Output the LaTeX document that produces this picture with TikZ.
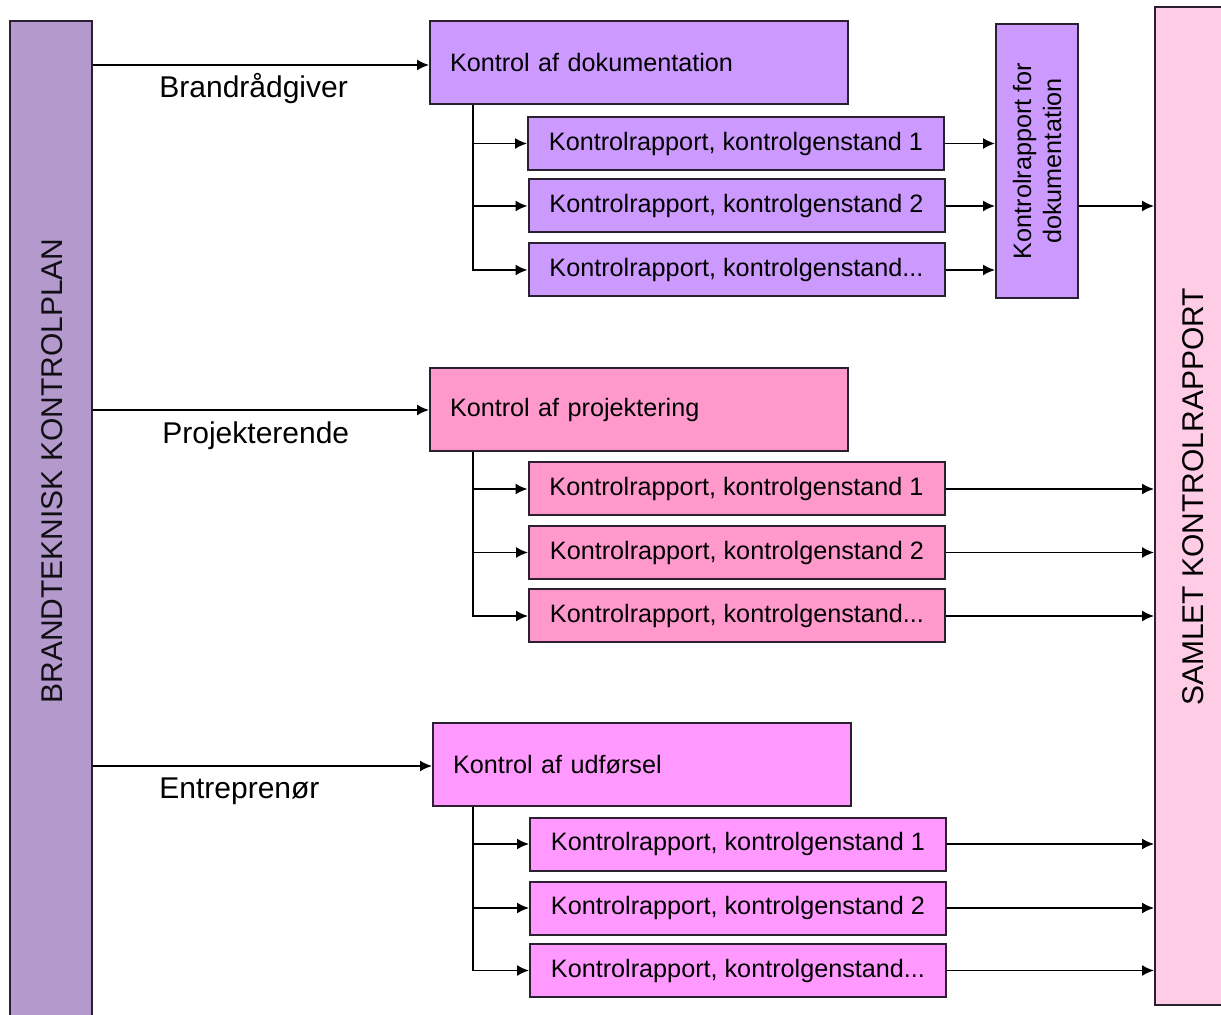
\documentclass[tikz,border=0pt]{standalone}
\usepackage{fontspec}
\setmainfont{Liberation Sans}
\usetikzlibrary{arrows.meta}
\definecolor{lbarc}{HTML}{B399CC}
\definecolor{rbarc}{HTML}{FFCCE6}
\definecolor{gonec}{HTML}{CC99FF}
\definecolor{gtwoc}{HTML}{FF99CC}
\definecolor{gthreec}{HTML}{FF99FF}
\definecolor{edgec}{HTML}{2A2030}
\tikzset{
  boxbase/.style={draw=edgec, line width=1pt, rectangle, inner sep=0pt, text=black},
  bigfont/.style={font=\fontsize{15}{18}\selectfont},
  smallfont/.style={font=\fontsize{12.6}{15}\selectfont},
  mainbox/.style={boxbase, smallfont, minimum height=41.5pt, text width=189pt, inner xsep=10pt, align=left},
  subbox/.style={boxbase, smallfont, minimum width=208pt, minimum height=26.5pt},
  arr/.style={draw=black, line width=0.8pt, -{Latex[length=6pt,width=5.5pt]}},
  lbl/.style={bigfont, anchor=west, text=black, inner sep=0pt}
}
\begin{document}
\begin{tikzpicture}[x=0.5pt,y=-0.5pt]
\useasboundingbox (0,0) rectangle (1221,1015);
\clip (0,0) rectangle (1221,1015);
\fill[white] (0,0) rectangle (1221,1015);

% side bars
\node[boxbase, fill=lbarc, minimum width=41pt, minimum height=502pt] (lbar) at (51,523) {};
\node[bigfont, rotate=90, text=black!90!lbarc] (lbtext) at (52,471) {BRANDTEKNISK KONTROLPLAN};
\node[boxbase, fill=rbarc, minimum width=41pt, minimum height=499pt] (rbar) at (1196,506) {};
\node[bigfont, rotate=90, text=black] (rbtext) at (1193,497) {SAMLET KONTROLRAPPORT};

% group 1
\node[mainbox, fill=gonec] (g1) at (639,62.5) {Kontrol af dokumentation};
\node[subbox, fill=gonec] (s11) at (736,143.5) {Kontrolrapport, kontrolgenstand 1};
\node[subbox, fill=gonec] (s12) at (736.5,206) {Kontrolrapport, kontrolgenstand 2};
\node[subbox, fill=gonec] (s13) at (736.5,270) {Kontrolrapport, kontrolgenstand...};
\node[boxbase, fill=gonec, smallfont, minimum width=137pt, minimum height=41pt, rotate=90, align=center] (vdoc) at (1037,161) {Kontrolrapport for\\dokumentation};

% group 2
\node[mainbox, fill=gtwoc] (g2) at (639,409.5) {Kontrol af projektering};
\node[subbox, fill=gtwoc] (s21) at (736.5,489) {Kontrolrapport, kontrolgenstand 1};
\node[subbox, fill=gtwoc] (s22) at (737,552.5) {Kontrolrapport, kontrolgenstand 2};
\node[subbox, fill=gtwoc] (s23) at (737,616) {Kontrolrapport, kontrolgenstand...};

% group 3
\node[mainbox, fill=gthreec] (g3) at (642,764.5) {Kontrol af udførsel};
\node[subbox, fill=gthreec] (s31) at (738,844) {Kontrolrapport, kontrolgenstand 1};
\node[subbox, fill=gthreec] (s32) at (738,908) {Kontrolrapport, kontrolgenstand 2};
\node[subbox, fill=gthreec] (s33) at (738,970.5) {Kontrolrapport, kontrolgenstand...};

% labels
\node[lbl] (l1) at (159,89) {Brandrådgiver};
\node[lbl] (l2) at (162,436) {Projekterende};
\node[lbl] (l3) at (159,791) {Entreprenør};

% arrows from left bar
\draw[arr] (lbar.east |- 0,65) coordinate (a1) -- (g1.west |- a1);
\draw[arr] (lbar.east |- 0,410) coordinate (a2) -- (g2.west |- a2);
\draw[arr] (lbar.east |- 0,766) coordinate (a3) -- (g3.west |- a3);

% trunks
\coordinate (t1) at (473,0);
\draw[arr] (t1 |- g1.south) |- (s13.west);
\draw[arr] (t1 |- s11.west) -- (s11.west);
\draw[arr] (t1 |- s12.west) -- (s12.west);
\draw[arr] (t1 |- g2.south) |- (s23.west);
\draw[arr] (t1 |- s21.west) -- (s21.west);
\draw[arr] (t1 |- s22.west) -- (s22.west);
\draw[arr] (t1 |- g3.south) |- (s33.west);
\draw[arr] (t1 |- s31.west) -- (s31.west);
\draw[arr] (t1 |- s32.west) -- (s32.west);

% group 1 to vertical report (rotated node: north = left side, south = right side)
\draw[arr] (s11.east) -- (vdoc.north |- s11.east);
\draw[arr] (s12.east) -- (vdoc.north |- s12.east);
\draw[arr] (s13.east) -- (vdoc.north |- s13.east);
\draw[arr] (vdoc.south |- s12.east) -- (rbar.west |- s12.east);

% group 2, 3 to right bar
\foreach \s in {s21,s22,s23,s31,s32,s33}{
  \draw[arr] (\s.east) -- (rbar.west |- \s.east);
}
\end{tikzpicture}
\end{document}
